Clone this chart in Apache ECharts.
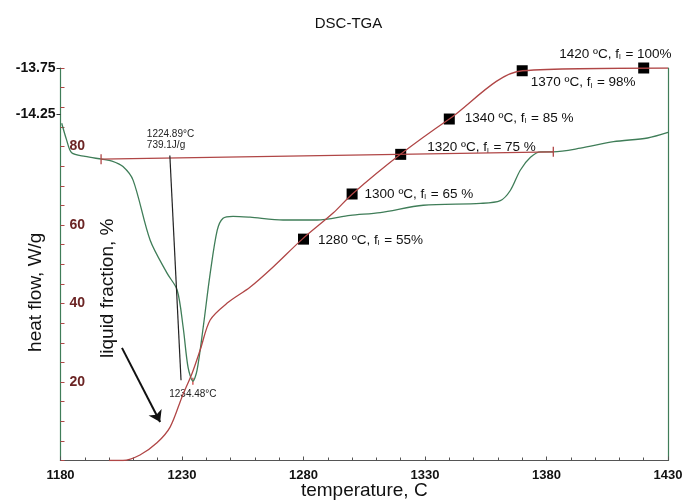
<!DOCTYPE html>
<html>
<head>
<meta charset="utf-8">
<style>
  html, body { margin: 0; padding: 0; background: #fff; }
  #chart-container { width: 697px; height: 500px; }
</style>
</head>
<body>
<div id="chart-container"></div>
<script src="https://cdn.jsdelivr.net/npm/echarts@6/dist/echarts.min.js"></script>
<script type="text/javascript">
// DSC heat flow curve (temperature C, heat flow W/g)
var dscTemp = [1180.5, 1182.5, 1184.6, 1190.1, 1197.0, 1201.2, 1205.7, 1209.9, 1216.9, 1223.9, 1228.0, 1230.5,
               1232.5, 1234.5, 1236.2, 1238.7, 1241.6, 1244.5, 1246.9, 1251.0, 1258.0, 1271.6, 1285.6, 1299.2,
               1311.6, 1329.3, 1352.8, 1361.0, 1365.1, 1369.2, 1373.4, 1377.5, 1382.8, 1394.0, 1407.6, 1421.6, 1430];
var dscFlow = [-14.35, -14.53, -14.67, -14.71, -14.74, -14.76, -14.82, -14.97, -15.62, -15.98, -16.16, -16.57,
               -17.00, -17.15, -17.03, -16.57, -15.98, -15.51, -15.38, -15.36, -15.37, -15.40, -15.40, -15.35,
               -15.32, -15.24, -15.22, -15.19, -15.08, -14.86, -14.72, -14.66, -14.66, -14.62, -14.55, -14.51, -14.45];

// liquid fraction curve (temperature C, %)
var lfTemp = [1200, 1205.7, 1212.7, 1219.7, 1225.1, 1230.0, 1234.2, 1237.5, 1241.6, 1248.6, 1258.1, 1267.5,
              1279.5, 1292.3, 1300.1, 1319.9, 1340.0, 1370.1, 1430];
var lfValue = [0, 0, 1.4, 4.5, 8.5, 16.2, 22.3, 28.2, 35.8, 40.1, 44.2, 49.3,
               56.4, 63.1, 67.9, 78.0, 87.0, 99.3, 100];

// square markers and their captions
var markTemp = [1280, 1300, 1320, 1340, 1370, 1420];
var markValue = [56.4, 67.9, 78.0, 87.0, 99.3, 100];
var markText = ['1280 ºC, f{s|l} = 55%', '1300 ºC, f{s|l} = 65 %', '1320 ºC, f{s|l} = 75 %',
                '1340 ºC, f{s|l} = 85 %', '1370 ºC, f{s|l} = 98%', '1420 ºC, f{s|l} = 100%'];

// DSC baseline (red) and onset tangent (black)
var baseTemp = [1196.7, 1382.8];
var baseFlow = [-14.74, -14.66];
var tanTemp = [1225.0, 1229.6];
var tanFlow = [-14.70, -17.14];
var peakTemp = [1234.48];
var peakFlow = [-17.15];

// arrow pointing at the liquid fraction curve
var arrowTemp = [1205.3, 1221.0];
var arrowLF = [28.7, 9.8];

// tick labels
var xTicks = [1180, 1230, 1280, 1330, 1380, 1430];
var flowTicks = [-14.25, -13.75];
var lfTicks = [20, 40, 60, 80];

var FONT = 'Liberation Sans, Arial, sans-serif';
var GREEN = '#3f7d58';
var RED = '#b04646';
var DARKRED = '#6b2424';

function zip(a, b) {
    return a.map(function (v, i) { return [v, b[i]]; });
}

var markLabelOffsets = [[4, 1], [2, 0], [16, -7], [5, -1], [-2, 12], [-95, -14]];

var markData = markTemp.map(function (t, i) {
    return { value: [t, markValue[i]], label: { offset: markLabelOffsets[i] } };
});

var dom = document.getElementById('chart-container');
var myChart = echarts.init(dom, null, { renderer: 'canvas' });

var option = {
    animation: false,
    backgroundColor: '#fff',
    title: {
        text: 'DSC-TGA',
        left: 'center',
        top: 11,
        textStyle: { fontFamily: FONT, fontSize: 15, fontWeight: 'normal', color: '#111' }
    },
    grid: { left: 60.5, right: 29, top: 68, bottom: 39.5, containLabel: false, outerBoundsMode: 'none' },
    xAxis: [{
        type: 'value',
        min: 1180, max: 1430, interval: 50,
        name: 'temperature, C',
        nameLocation: 'middle',
        nameGap: 21,
        nameMoveOverlap: false,
        nameTextStyle: { fontFamily: FONT, fontSize: 19, color: '#111' },
        axisLine: { lineStyle: { color: '#555', width: 1.2 } },
        axisTick: { inside: true, length: 4, lineStyle: { color: '#555' } },
        minorTick: { show: true, splitNumber: 5, length: 3, lineStyle: { color: '#555' } },
        splitLine: { show: false },
        axisLabel: {
            fontFamily: FONT, fontSize: 13, fontWeight: 'bold', color: '#111', margin: 8,
            customValues: xTicks,
            formatter: function (v) { return String(v); }
        }
    }, {
        type: 'value', position: 'top', min: 1180, max: 1430,
        axisLine: { lineStyle: { color: '#555', width: 1.2 } },
        axisTick: { show: false }, axisLabel: { show: false }, splitLine: { show: false }
    }],
    yAxis: [{
        // liquid fraction, %
        type: 'value', position: 'left',
        min: 0, max: 100, interval: 20,
        name: 'liquid fraction, %',
        nameLocation: 'middle',
        nameGap: -57,
        nameMoveOverlap: false,
        nameTextStyle: { fontFamily: FONT, fontSize: 19, color: '#111', padding: [0, 48, 0, 0] },
        axisLine: { show: true, lineStyle: { color: GREEN, width: 1.2 } },
        axisTick: { inside: true, length: 4, lineStyle: { color: RED } },
        minorTick: { show: true, splitNumber: 4, length: 4, lineStyle: { color: RED } },
        splitLine: { show: false },
        axisLabel: {
            inside: true, margin: 9,
            fontFamily: FONT, fontSize: 14, fontWeight: 'bold', color: DARKRED,
            customValues: lfTicks
        }
    }, {
        // heat flow, W/g
        type: 'value', position: 'left',
        min: -18.011, max: -13.75,
        name: 'heat flow, W/g',
        nameLocation: 'middle',
        nameGap: 15,
        nameMoveOverlap: false,
        nameTextStyle: { fontFamily: FONT, fontSize: 19, color: '#111', padding: [0, 56, 0, 0] },
        axisLine: { show: false },
        axisTick: { show: true, length: 4, customValues: flowTicks, lineStyle: { color: '#333' } },
        splitLine: { show: false },
        axisLabel: {
            margin: 5,
            fontFamily: FONT, fontSize: 14, fontWeight: 'bold', color: '#111',
            customValues: flowTicks,
            formatter: function (v) { return v.toFixed(2); }
        }
    }, {
        type: 'value', position: 'right', min: 0, max: 1,
        axisLine: { show: true, lineStyle: { color: GREEN, width: 1.2 } },
        axisTick: { show: false }, axisLabel: { show: false }, splitLine: { show: false }
    }],
    series: [
        {
            name: 'heat flow',
            type: 'line',
            yAxisIndex: 1,
            data: zip(dscTemp, dscFlow),
            smooth: 0.3,
            showSymbol: false,
            lineStyle: { color: GREEN, width: 1.3 }
        },
        {
            name: 'baseline',
            type: 'line',
            yAxisIndex: 1,
            data: zip(baseTemp, baseFlow),
            symbol: 'rect',
            symbolSize: [1.3, 10],
            itemStyle: { color: RED },
            lineStyle: { color: RED, width: 1.2 }
        },
        {
            name: 'onset',
            type: 'line',
            yAxisIndex: 1,
            data: zip(tanTemp, tanFlow),
            showSymbol: false,
            lineStyle: { color: '#222', width: 1.2 }
        },
        {
            name: 'onset label',
            type: 'scatter',
            yAxisIndex: 1,
            data: [[tanTemp[0], tanFlow[0]]],
            symbolSize: 2,
            itemStyle: { color: 'rgba(0,0,0,0)', opacity: 1 },
            label: {
                show: true,
                position: 'top',
                distance: 4,
                align: 'left',
                offset: [-23, 0],
                fontFamily: FONT, fontSize: 10, color: '#222', lineHeight: 11,
                formatter: '1224.89°C\n739.1J/g'
            }
        },
        {
            name: 'peak',
            type: 'scatter',
            yAxisIndex: 1,
            data: zip(peakTemp, peakFlow),
            symbol: 'rect',
            symbolSize: [1.3, 7],
            itemStyle: { color: '#d04040', opacity: 1 },
            label: {
                show: true, position: 'bottom', distance: 5,
                fontFamily: FONT, fontSize: 10, color: '#222',
                formatter: '1234.48°C'
            }
        },
        {
            name: 'liquid fraction',
            type: 'line',
            yAxisIndex: 0,
            data: zip(lfTemp, lfValue),
            smooth: 0.3,
            showSymbol: false,
            lineStyle: { color: RED, width: 1.3 },
            markLine: {
                silent: true,
                animation: false,
                label: { show: false },
                lineStyle: { color: '#111', width: 2, type: 'solid' },
                symbolSize: 11,
                data: [[
                    { coord: [arrowTemp[0], arrowLF[0]], symbol: 'none' },
                    { coord: [arrowTemp[1], arrowLF[1]], symbol: 'arrow' }
                ]]
            }
        },
        {
            name: 'markers',
            type: 'scatter',
            yAxisIndex: 0,
            data: markData,
            symbol: 'rect',
            symbolSize: 11,
            clip: false,
            itemStyle: { color: '#000', opacity: 1 },
            label: {
                show: true,
                position: 'right',
                distance: 5,
                fontFamily: FONT, fontSize: 13.5, color: '#111',
                formatter: function (p) { return markText[p.dataIndex]; },
                rich: {
                    s: { fontFamily: FONT, fontSize: 8, color: '#111', verticalAlign: 'bottom', padding: [6, 1, 0, 0] }
                }
            }
        }
    ]
};

myChart.setOption(option);
window.addEventListener('resize', myChart.resize);
</script>
</body>
</html>
